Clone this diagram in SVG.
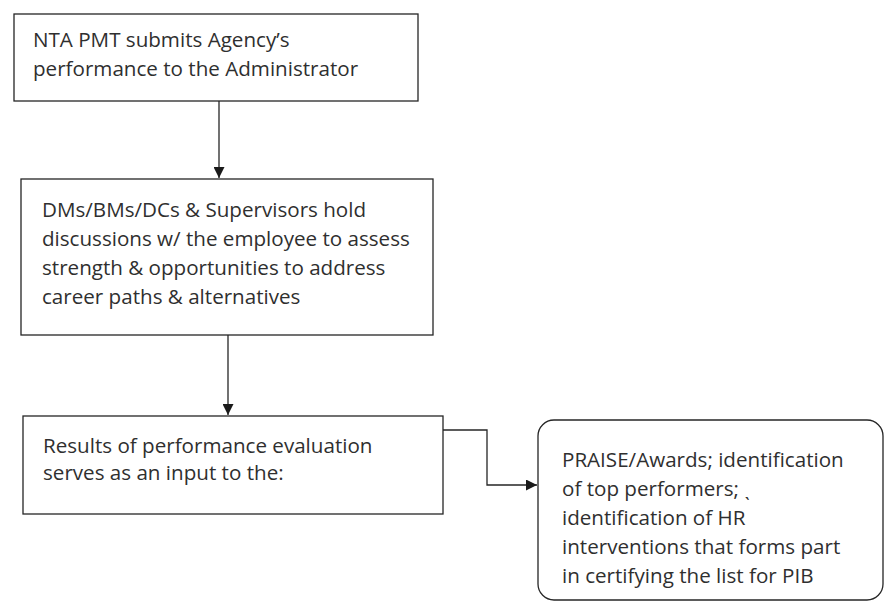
<svg xmlns="http://www.w3.org/2000/svg" width="885" height="614" viewBox="0 0 885 614">
  <style>
    .box { fill: #ffffff; stroke: #262626; stroke-width: 1.3; }
    .label { font-family: "Open Sans", "Liberation Sans", sans-serif; font-size: 20.6px; fill: #2f2f2f; }
    .conn { fill: none; stroke: #262626; stroke-width: 1.3; }
  </style>
  <defs>
    <marker id="arrow" viewBox="0 0 10 10" refX="10" refY="5" markerWidth="12" markerHeight="11" markerUnits="userSpaceOnUse" orient="auto">
      <path d="M0,0 L10,5 L0,10 Z" fill="#1a1a1a"/>
    </marker>
  </defs>
  <rect width="885" height="614" fill="#ffffff"/>

  <g id="connectors">
    <line class="conn" x1="219" y1="101" x2="219" y2="178" marker-end="url(#arrow)"/>
    <line class="conn" x1="228" y1="335" x2="228" y2="415" marker-end="url(#arrow)"/>
    <path class="conn" d="M443,430 H487 V485 H537" marker-end="url(#arrow)"/>
  </g>

  <g id="node-submit">
    <rect class="box" x="14" y="14" width="404" height="87"/>
    <text class="label" x="33" y="47">NTA PMT submits Agency’s</text>
    <text class="label" x="33" y="76">performance to the Administrator</text>
  </g>

  <g id="node-discussions">
    <rect class="box" x="21" y="179" width="412" height="156"/>
    <text class="label" x="42" y="217">DMs/BMs/DCs &amp; Supervisors hold</text>
    <text class="label" x="42" y="246">discussions w/ the employee to assess</text>
    <text class="label" x="42" y="275">strength &amp; opportunities to address</text>
    <text class="label" x="42" y="304">career paths &amp; alternatives</text>
  </g>

  <g id="node-results">
    <rect class="box" x="23" y="416" width="420" height="98"/>
    <text class="label" x="43" y="453">Results of performance evaluation</text>
    <text class="label" x="43" y="480">serves as an input to the:</text>
  </g>

  <g id="node-praise">
    <rect class="box" x="538" y="420" width="345" height="180" rx="16" ry="16"/>
    <text class="label" x="562" y="467">PRAISE/Awards; identification</text>
    <text class="label" x="562" y="496">of top performers; ˎ</text>
    <text class="label" x="562" y="525">identification of HR</text>
    <text class="label" x="562" y="554">interventions that forms part</text>
    <text class="label" x="562" y="583">in certifying the list for PIB</text>
  </g>
</svg>
